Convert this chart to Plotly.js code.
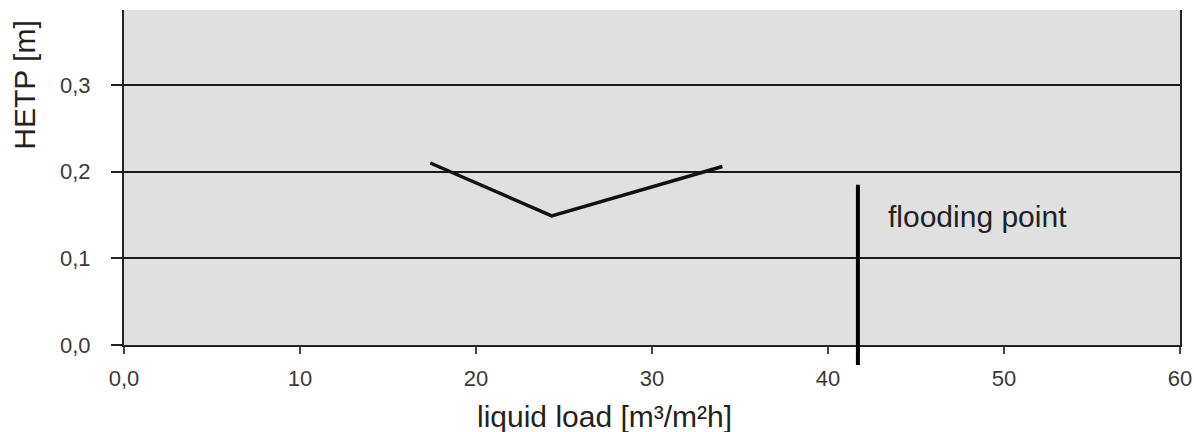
<!DOCTYPE html>
<html>
<head>
<meta charset="utf-8">
<script src="https://cdn.plot.ly/plotly-3.0.1.min.js"></script>
<style>html,body{margin:0;padding:0;background:#fff;}#chart{width:1194px;height:432px;}</style>
</head>
<body>
<div id="chart"></div>
<script>
// ---- data ----
const liquidLoad = [17.4, 24.3, 34.0];          // m³/m²h
const hetp = [0.210, 0.149, 0.206];             // m
const floodingLoad = 41.7;                      // m³/m²h
const floodingTop = 0.185;                      // m (top of marker line)
const floodingBottom = -0.023;                  // m (marker reaches below the axis)
const floodingLabel = "flooding point";
const xTickVals = [0, 10, 20, 30, 40, 50, 60];
const xTickText = ["0,0", "10", "20", "30", "40", "50", "60"];
const yTickVals = [0, 0.1, 0.2, 0.3];
const yTickText = ["0,0", "0,1", "0,2", "0,3"];
const xTitle = "liquid load [m³/m²h]";
const yTitle = "HETP [m]";
const xRange = [0, 60];
const yRange = [0, 0.3865];

const FONT = '"Liberation Sans", Arial, Helvetica, sans-serif';
const toPaperY = v => (v - yRange[0]) / (yRange[1] - yRange[0]);

const traces = [{
  type: 'scatter',
  mode: 'lines',
  x: liquidLoad,
  y: hetp,
  line: {color: '#111', width: 3.5},
  hoverinfo: 'skip',
  showlegend: false
}];

const layout = {
  width: 1194,
  height: 432,
  margin: {l: 124, r: 14, t: 10, b: 87},
  paper_bgcolor: '#ffffff',
  plot_bgcolor: '#e0e0e0',
  font: {family: FONT, color: '#333'},
  showlegend: false,
  xaxis: {
    range: xRange,
    tickmode: 'array',
    tickvals: xTickVals,
    ticktext: xTickText,
    ticks: 'outside',
    ticklen: 7,
    tickwidth: 2,
    tickcolor: '#444',
    ticklabelstandoff: 6,
    tickfont: {family: FONT, size: 22, color: '#3a3a3a'},
    showgrid: false,
    zeroline: false,
    showline: true,
    linecolor: '#222',
    linewidth: 2,
    fixedrange: true
  },
  yaxis: {
    range: yRange,
    tickmode: 'array',
    tickvals: yTickVals,
    ticktext: yTickText,
    ticks: 'outside',
    ticklen: 11,
    tickwidth: 2,
    tickcolor: '#222',
    ticklabelstandoff: 16,
    tickfont: {family: FONT, size: 22, color: '#3a3a3a'},
    showgrid: true,
    gridcolor: '#1a1a1a',
    gridwidth: 2,
    zeroline: false,
    showline: true,
    mirror: true,
    linecolor: '#222',
    linewidth: 2,
    fixedrange: true
  },
  shapes: [{
    type: 'line',
    xref: 'x', yref: 'paper',
    x0: floodingLoad, x1: floodingLoad,
    y0: toPaperY(floodingBottom), y1: toPaperY(floodingTop),
    line: {color: '#000', width: 4},
    layer: 'above'
  }],
  annotations: [
    {
      text: floodingLabel,
      xref: 'x', yref: 'y',
      x: 43.3, y: 0.148,
      xanchor: 'left', yanchor: 'middle',
      showarrow: false,
      font: {family: FONT, size: 30, color: '#222'}
    },
    {
      text: xTitle,
      xref: 'x', yref: 'paper',
      x: 27.3, y: -0.212,
      xanchor: 'center', yanchor: 'middle',
      showarrow: false,
      font: {family: FONT, size: 30, color: '#222'}
    },
    {
      text: yTitle,
      xref: 'paper', yref: 'y',
      x: -0.094, y: 0.3,
      xanchor: 'center', yanchor: 'middle',
      textangle: -90,
      showarrow: false,
      font: {family: FONT, size: 30, color: '#222'}
    }
  ]
};

Plotly.newPlot('chart', traces, layout, {staticPlot: true, displayModeBar: false});
</script>
</body>
</html>
